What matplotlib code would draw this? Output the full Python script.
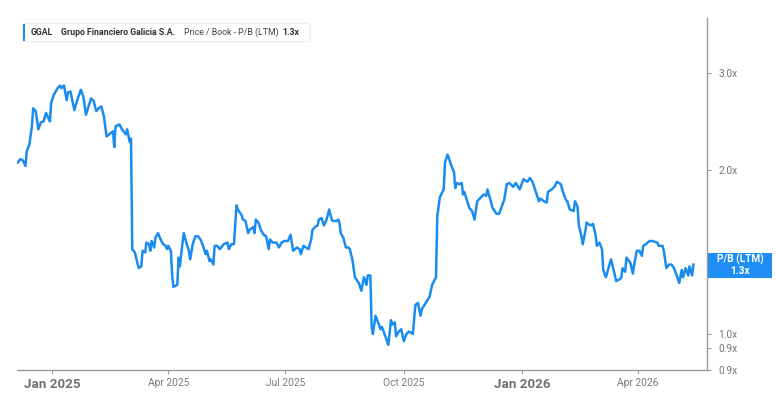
import pandas as pd
import matplotlib
matplotlib.use("Agg")
import matplotlib.pyplot as plt
from matplotlib.patches import Rectangle, FancyBboxPatch
from matplotlib.ticker import FixedLocator, NullLocator

plt.rcParams['font.family'] = ['Roboto', 'DejaVu Sans']

# P/B (LTM) values
dates = [
    "2024-12-05", "2024-12-07", "2024-12-09", "2024-12-11", "2024-12-12", "2024-12-14",
    "2024-12-16", "2024-12-17", "2024-12-19", "2024-12-21", "2024-12-23", "2024-12-25",
    "2024-12-27", "2024-12-30", "2024-12-31", "2025-01-02", "2025-01-05", "2025-01-07",
    "2025-01-08", "2025-01-10", "2025-01-12", "2025-01-13", "2025-01-15", "2025-01-18",
    "2025-01-20", "2025-01-23", "2025-01-25", "2025-01-27", "2025-01-29", "2025-01-31",
    "2025-02-02", "2025-02-04", "2025-02-06", "2025-02-08", "2025-02-10", "2025-02-12",
    "2025-02-15", "2025-02-17", "2025-02-18", "2025-02-19", "2025-02-22", "2025-02-24",
    "2025-02-27", "2025-02-28", "2025-03-02", "2025-03-03", "2025-03-04", "2025-03-06",
    "2025-03-09", "2025-03-11", "2025-03-12", "2025-03-14", "2025-03-15", "2025-03-17",
    "2025-03-18", "2025-03-19", "2025-03-21", "2025-03-22", "2025-03-24", "2025-03-26",
    "2025-03-28", "2025-03-30", "2025-03-31", "2025-04-01", "2025-04-03", "2025-04-04",
    "2025-04-05", "2025-04-08", "2025-04-09", "2025-04-10", "2025-04-11", "2025-04-13",
    "2025-04-15", "2025-04-17", "2025-04-18", "2025-04-20", "2025-04-22", "2025-04-24",
    "2025-04-26", "2025-04-28", "2025-04-30", "2025-05-01", "2025-05-03", "2025-05-04",
    "2025-05-06", "2025-05-07", "2025-05-09", "2025-05-11", "2025-05-14", "2025-05-17",
    "2025-05-18", "2025-05-20", "2025-05-22", "2025-05-24", "2025-05-25", "2025-05-28",
    "2025-05-29", "2025-05-31", "2025-06-02", "2025-06-03", "2025-06-06", "2025-06-07",
    "2025-06-08", "2025-06-10", "2025-06-12", "2025-06-14", "2025-06-16", "2025-06-18",
    "2025-06-19", "2025-06-21", "2025-06-24", "2025-06-26", "2025-06-28", "2025-06-30",
    "2025-07-03", "2025-07-05", "2025-07-07", "2025-07-10", "2025-07-12", "2025-07-13",
    "2025-07-15", "2025-07-17", "2025-07-19", "2025-07-21", "2025-07-22", "2025-07-24",
    "2025-07-26", "2025-07-27", "2025-07-29", "2025-07-31", "2025-08-02", "2025-08-04",
    "2025-08-06", "2025-08-07", "2025-08-10", "2025-08-11", "2025-08-12", "2025-08-13",
    "2025-08-15", "2025-08-17", "2025-08-19", "2025-08-20", "2025-08-22", "2025-08-24",
    "2025-08-27", "2025-08-29", "2025-08-31", "2025-09-02", "2025-09-03", "2025-09-05",
    "2025-09-06", "2025-09-07", "2025-09-09", "2025-09-11", "2025-09-13", "2025-09-14",
    "2025-09-16", "2025-09-19", "2025-09-21", "2025-09-22", "2025-09-24", "2025-09-25",
    "2025-09-27", "2025-09-29", "2025-10-01", "2025-10-03", "2025-10-05", "2025-10-08",
    "2025-10-10", "2025-10-12", "2025-10-14", "2025-10-15", "2025-10-18", "2025-10-21",
    "2025-10-23", "2025-10-26", "2025-10-27", "2025-10-29", "2025-11-01", "2025-11-02",
    "2025-11-04", "2025-11-05", "2025-11-07", "2025-11-09", "2025-11-10", "2025-11-11",
    "2025-11-13", "2025-11-15", "2025-11-16", "2025-11-17", "2025-11-19", "2025-11-21",
    "2025-11-23", "2025-11-25", "2025-11-27", "2025-11-29", "2025-12-02", "2025-12-04",
    "2025-12-05", "2025-12-07", "2025-12-09", "2025-12-12", "2025-12-14", "2025-12-16",
    "2025-12-18", "2025-12-20", "2025-12-22", "2025-12-25", "2025-12-27", "2025-12-30",
    "2026-01-02", "2026-01-05", "2026-01-07", "2026-01-09", "2026-01-12", "2026-01-14",
    "2026-01-15", "2026-01-18", "2026-01-20", "2026-01-21", "2026-01-24", "2026-01-26",
    "2026-01-28", "2026-01-31", "2026-02-02", "2026-02-04", "2026-02-05", "2026-02-07",
    "2026-02-10", "2026-02-11", "2026-02-13", "2026-02-14", "2026-02-16", "2026-02-17",
    "2026-02-19", "2026-02-20", "2026-02-23", "2026-02-25", "2026-02-27", "2026-02-28",
    "2026-03-02", "2026-03-04", "2026-03-05", "2026-03-07", "2026-03-09", "2026-03-11",
    "2026-03-13", "2026-03-15", "2026-03-18", "2026-03-19", "2026-03-20", "2026-03-22",
    "2026-03-23", "2026-03-26", "2026-03-28", "2026-03-29", "2026-03-31", "2026-04-02",
    "2026-04-04", "2026-04-05", "2026-04-07", "2026-04-10", "2026-04-12", "2026-04-16",
    "2026-04-17", "2026-04-20", "2026-04-21", "2026-04-23", "2026-04-25", "2026-04-27",
    "2026-04-29", "2026-05-01", "2026-05-03", "2026-05-05", "2026-05-06", "2026-05-08",
    "2026-05-10", "2026-05-11", "2026-05-13", "2026-05-14",
]
pb = [
    2.06, 2.09, 2.08, 2.03, 2.16, 2.22,
    2.40, 2.59, 2.56, 2.37, 2.44, 2.45,
    2.54, 2.45, 2.65, 2.74, 2.82, 2.85,
    2.82, 2.85, 2.68, 2.77, 2.78, 2.57,
    2.67, 2.80, 2.72, 2.52, 2.61, 2.70,
    2.67, 2.56, 2.59, 2.61, 2.50, 2.30,
    2.33, 2.35, 2.20, 2.40, 2.42, 2.37,
    2.32, 2.37, 2.25, 2.28, 1.43, 1.41,
    1.32, 1.33, 1.42, 1.41, 1.47, 1.46,
    1.42, 1.48, 1.44, 1.50, 1.53, 1.49,
    1.46, 1.45, 1.43, 1.45, 1.42, 1.28,
    1.22, 1.23, 1.38, 1.33, 1.40, 1.53,
    1.47, 1.42, 1.37, 1.46, 1.51, 1.51,
    1.49, 1.45, 1.40, 1.42, 1.36, 1.37,
    1.34, 1.45, 1.45, 1.43, 1.46, 1.47,
    1.43, 1.46, 1.46, 1.72, 1.69, 1.65,
    1.62, 1.61, 1.53, 1.55, 1.57, 1.53,
    1.62, 1.60, 1.55, 1.52, 1.51, 1.43,
    1.49, 1.47, 1.47, 1.44, 1.47, 1.48,
    1.48, 1.52, 1.42, 1.44, 1.43, 1.40,
    1.45, 1.44, 1.43, 1.49, 1.55, 1.57,
    1.58, 1.62, 1.63, 1.58, 1.62, 1.69,
    1.62, 1.61, 1.61, 1.62, 1.60, 1.53,
    1.50, 1.44, 1.44, 1.43, 1.37, 1.27,
    1.24, 1.20, 1.27, 1.23, 1.28, 1.28,
    1.03, 1.00, 1.08, 1.05, 1.02, 1.03,
    1.00, 0.955, 1.06, 1.04, 1.05, 0.99,
    1.01, 1.02, 0.97, 1.00, 1.01, 1.00,
    1.13, 1.14, 1.08, 1.11, 1.14, 1.17,
    1.23, 1.27, 1.64, 1.78, 1.84, 2.06,
    2.13, 2.10, 2.03, 1.98, 1.85, 1.89,
    1.88, 1.89, 1.80, 1.82, 1.76, 1.70,
    1.68, 1.62, 1.75, 1.77, 1.80, 1.79,
    1.84, 1.77, 1.70, 1.66, 1.66, 1.71,
    1.76, 1.88, 1.89, 1.86, 1.89, 1.84,
    1.92, 1.90, 1.93, 1.90, 1.81, 1.75,
    1.77, 1.75, 1.74, 1.82, 1.84, 1.86,
    1.90, 1.88, 1.81, 1.76, 1.75, 1.69,
    1.68, 1.75, 1.71, 1.58, 1.51, 1.46,
    1.54, 1.60, 1.58, 1.59, 1.52, 1.45,
    1.47, 1.43, 1.31, 1.27, 1.32, 1.37,
    1.31, 1.25, 1.26, 1.27, 1.32, 1.30,
    1.38, 1.35, 1.29, 1.34, 1.42, 1.42,
    1.39, 1.45, 1.46, 1.48, 1.48, 1.47,
    1.45, 1.45, 1.42, 1.32, 1.34, 1.34,
    1.32, 1.28, 1.24, 1.31, 1.27, 1.32,
    1.28, 1.33, 1.28, 1.34,
]

x_ticks = ["2025-01-01", "2025-04-01", "2025-07-01", "2025-10-01", "2026-01-01", "2026-04-01"]
x_labels = ["Jan 2025", "Apr 2025", "Jul 2025", "Oct 2025", "Jan 2026", "Apr 2026"]
y_ticks = [0.859, 0.942, 1.0, 2.0, 3.0]

ticker = "GGAL"
company = "Grupo Financiero Galicia S.A."
metric = "Price / Book - P/B (LTM)"
last_label = "1.3x"

blue = "#1a8cf0"
grey = "#9a9a9a"

df = pd.DataFrame({"date": pd.to_datetime(dates), "pb": pb})

fig = plt.figure(figsize=(7.76, 4.0), dpi=100)
ax = fig.add_axes([17.3 / 776, 30 / 400, (707 - 17.3) / 776, (370 - 18) / 400])

ax.plot(df["date"], df["pb"], color=blue, lw=1.8, solid_joinstyle="round")

ax.set_yscale("log")
ax.set_ylim(0.859, 3.79)
ax.set_xlim(pd.Timestamp("2024-12-04 16:00"), pd.Timestamp("2026-05-24 14:00"))

ax.yaxis.tick_right()
ax.yaxis.set_major_locator(FixedLocator(y_ticks))
ax.yaxis.set_minor_locator(NullLocator())
ax.set_yticklabels([f"{v:.1f}x" for v in y_ticks])
ax.tick_params(axis="y", which="major", length=3, width=0.8, color=grey,
               labelsize=7.3, labelcolor="#777777", pad=5)

ax.set_xticks(pd.to_datetime(x_ticks))
ax.set_xticklabels(x_labels)
ax.tick_params(axis="x", length=3, width=0.8, color=grey, pad=3)
for lbl in ax.get_xticklabels():
    if lbl.get_text().startswith("Jan"):
        lbl.set_fontsize(9.6)
        lbl.set_fontweight("bold")
        lbl.set_color("#707070")
    else:
        lbl.set_fontsize(7.4)
        lbl.set_color("#7a7a7a")

for side in ["top", "left"]:
    ax.spines[side].set_visible(False)
for side in ["right", "bottom"]:
    ax.spines[side].set_color(grey)
    ax.spines[side].set_linewidth(1.0)

# legend box, top left
W, H = 776, 400
box = FancyBboxPatch((22.7 / W, 1 - 41.7 / H), (310 - 22.7) / W, 18.4 / H,
                     boxstyle="round,pad=0,rounding_size=0.004", transform=fig.transFigure,
                     facecolor="white", edgecolor="#ececec", lw=0.8)
fig.patches.append(box)
fig.patches.append(Rectangle((22.7 / W, 1 - 41 / H), 2.6 / W, 17 / H,
                             transform=fig.transFigure, color=blue, lw=0))
ty = 1 - 32.6 / H
fs = 6.3
fig.text(30.7 / W, ty, ticker, fontsize=fs, fontweight="bold", color="#333333", va="center")
fig.text(60.7 / W, ty, company, fontsize=fs, fontweight="bold", color="#333333", va="center")
fig.text(184.3 / W, ty, metric, fontsize=fs, color="#444444", va="center")
fig.text(282.7 / W, ty, last_label, fontsize=fs, fontweight="bold", color="#333333", va="center")

# last value badge on right axis
fig.patches.append(Rectangle((708 / W, 1 - 278.3 / H), 64 / W, 25 / H,
                             transform=fig.transFigure, color="#1e8ef5", lw=0))
fig.text(740 / W, 1 - 259.5 / H, "P/B (LTM)", fontsize=7.2, fontweight="bold",
         color="white", ha="center", va="center")
fig.text(740 / W, 1 - 271 / H, last_label, fontsize=7.2, fontweight="bold",
         color="white", ha="center", va="center")

fig.savefig("out.png", dpi=100)
